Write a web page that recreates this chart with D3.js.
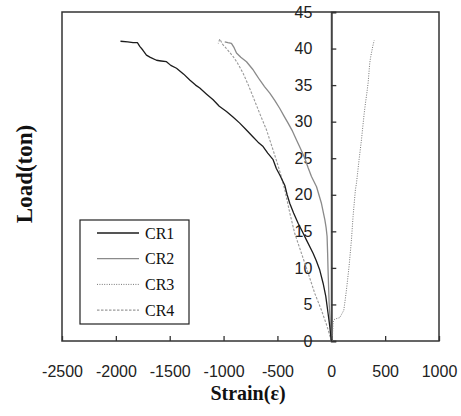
<!DOCTYPE html>
<html>
<head>
<meta charset="utf-8">
<script src="https://cdn.jsdelivr.net/npm/d3@7"></script>
<style>
  html, body { margin: 0; padding: 0; background: #fff; }
  svg { display: block; }
</style>
</head>
<body>
<svg id="chart" width="461" height="416"></svg>
<script>
// Load–strain readings for four gauges, as [strain (με), load (ton)] pairs
const seriesNames = ["CR1", "CR2", "CR3", "CR4"];

const cr1 = [[0,0],[-14,2],[-30,3.8],[-51,6.1],[-76,7.9],[-107,9.7],[-140,11],[-169,12],[-230,13.8],
  [-270,15],[-308,16.1],[-350,17.5],[-385,18.8],[-410,20],[-432,21.3],[-478,22.7],[-510,23.6],[-540,24.8],
  [-590,25.7],[-633,26.6],[-680,27.2],[-726,27.9],[-790,28.9],[-850,29.8],[-910,30.6],[-973,31.4],
  [-1040,32.1],[-1097,33],[-1160,33.8],[-1221,34.6],[-1260,35],[-1314,35.7],[-1370,36.5],[-1437,37.3],
  [-1490,37.7],[-1530,38.2],[-1580,38.3],[-1623,38.4],[-1680,38.8],[-1716,39.1],[-1750,39.8],
  [-1778,40.3],[-1800,40.8],[-1840,40.8],[-1890,40.9],[-1957,41]];

const cr2 = [[0,0],[-7,2],[-20,5.2],[-30,9.7],[-34,12],[-39,14.3],[-48,15.5],[-60,16.6],[-91,18.8],
  [-137,21.1],[-184,22.5],[-215,23.7],[-246,25],[-285,26.3],[-323,27.5],[-360,28.7],[-401,29.8],
  [-440,30.8],[-478,31.8],[-525,32.9],[-571,33.9],[-620,34.8],[-664,35.7],[-700,36.5],[-726,37.1],
  [-787,38.2],[-840,38.8],[-880,39.4],[-905,40.2],[-927,40.7],[-960,40.8],[-989,40.9]];

const cr3 = [[5,0],[11,0.6],[17,2.6],[32,3],[79,3.2],[116,4.2],[128,5.5],[141,7],[165,10.2],[187,13.8],
  [202,17],[224,20.7],[234,21.6],[246,23.2],[258,24.8],[280,27.5],[296,29.8],[306,31.2],[317,32.5],
  [330,33.9],[342,35.3],[357,38],[365,38.8],[373,39.4],[385,40.3],[398,41.1]];

const cr4 = [[0,0],[-7,0.4],[-39,2],[-91,4.2],[-153,6.5],[-215,9.3],[-277,12],[-339,14.7],[-385,17.5],
  [-432,20.7],[-470,22.8],[-505,24.5],[-540,26.1],[-602,28.9],[-664,31.1],[-726,33.4],[-770,35],
  [-818,36.6],[-870,38],[-911,38.9],[-973,40],[-1010,40.6],[-1035,41.3],[-1050,40.7]];

const seriesData = [cr1, cr2, cr3, cr4];

const xTickValues = [-2500, -2000, -1500, -1000, -500, 0, 500, 1000];
const yTickValues = [0, 5, 10, 15, 20, 25, 30, 35, 40, 45];

// Styling per series
const seriesStyle = [
  { color: "#1c1c1c", width: 1.3, dash: null },
  { color: "#8a8a8a", width: 1.3, dash: null },
  { color: "#777777", width: 1, dash: "1,1.4" },
  { color: "#9a9a9a", width: 1.1, dash: "2.5,1.5" }
];

const svg = d3.select("#chart");
const plot = { left: 62, right: 439, top: 12, bottom: 341 };

const x = d3.scaleLinear().domain([-2500, 1000]).range([plot.left, plot.right]);
const y = d3.scaleLinear().domain([0, 45]).range([plot.bottom, plot.top]);

const tickFont = "'Liberation Sans', Arial, sans-serif";
const serifFont = "'Liberation Serif', 'Times New Roman', serif";
const plainNumber = d => String(d);

// Plot frame
svg.append("rect")
  .attr("x", plot.left).attr("y", plot.top)
  .attr("width", plot.right - plot.left).attr("height", plot.bottom - plot.top)
  .attr("fill", "none").attr("stroke", "#333").attr("stroke-width", 1.5);

// X axis: ticks pointing inward, labels below the frame
const xAxis = svg.append("g")
  .attr("transform", `translate(0,${plot.bottom})`)
  .call(d3.axisBottom(x).tickValues(xTickValues).tickSize(-5).tickPadding(25).tickFormat(plainNumber));
xAxis.select(".domain").remove();
xAxis.selectAll(".tick line").attr("stroke", "#333").attr("stroke-width", 1.3);
xAxis.selectAll("text").attr("font-family", tickFont).attr("font-size", 16).attr("fill", "#222");

// Y axis at strain = 0: tick marks on the right, labels on the left
const x0 = x(0);
const yTicks = svg.append("g")
  .attr("transform", `translate(${x0},0)`)
  .call(d3.axisRight(y).tickValues(yTickValues).tickSize(5).tickFormat(""));
yTicks.select(".domain").attr("stroke", "#444").attr("stroke-width", 2);
yTicks.selectAll(".tick line").attr("stroke", "#333").attr("stroke-width", 1.3);

const yLabels = svg.append("g")
  .attr("transform", `translate(${x0},0)`)
  .call(d3.axisLeft(y).tickValues(yTickValues).tickSize(0).tickPadding(19).tickFormat(plainNumber));
yLabels.select(".domain").remove();
yLabels.selectAll("text").attr("font-family", tickFont).attr("font-size", 16).attr("fill", "#222");

// Curves
const line = d3.line().x(d => x(d[0])).y(d => y(d[1]));
const drawOrder = [3, 2, 1, 0];
drawOrder.forEach(i => {
  const s = seriesStyle[i];
  svg.append("path")
    .datum(seriesData[i])
    .attr("d", line)
    .attr("fill", "none")
    .attr("stroke", s.color)
    .attr("stroke-width", s.width)
    .attr("stroke-dasharray", s.dash)
    .attr("stroke-linejoin", "round");
});

// Axis titles
svg.append("text")
  .attr("x", 248)
  .attr("y", 400)
  .attr("text-anchor", "middle")
  .attr("font-family", serifFont).attr("font-weight", "bold").attr("font-size", 20)
  .attr("fill", "#111")
  .text("Strain(ε)");

svg.append("text")
  .attr("transform", "translate(24,174) rotate(-90)")
  .attr("text-anchor", "middle")
  .attr("dominant-baseline", "central")
  .attr("font-family", serifFont).attr("font-weight", "bold").attr("font-size", 23)
  .attr("fill", "#111")
  .text("Load(ton)");

// Legend
const legend = svg.append("g");
legend.append("rect")
  .attr("x", 80).attr("y", 220).attr("width", 109).attr("height", 104)
  .attr("fill", "#fff").attr("stroke", "#222").attr("stroke-width", 1.2);
seriesNames.forEach((name, i) => {
  const ly = 233 + i * 25.7;
  const s = seriesStyle[i];
  legend.append("line")
    .attr("x1", 97).attr("x2", 139).attr("y1", ly).attr("y2", ly)
    .attr("stroke", s.color).attr("stroke-width", s.width)
    .attr("stroke-dasharray", s.dash);
  legend.append("text")
    .attr("x", 145).attr("y", ly)
    .attr("dominant-baseline", "central")
    .attr("font-family", serifFont).attr("font-size", 16).attr("fill", "#111")
    .text(name);
});
</script>
</body>
</html>
